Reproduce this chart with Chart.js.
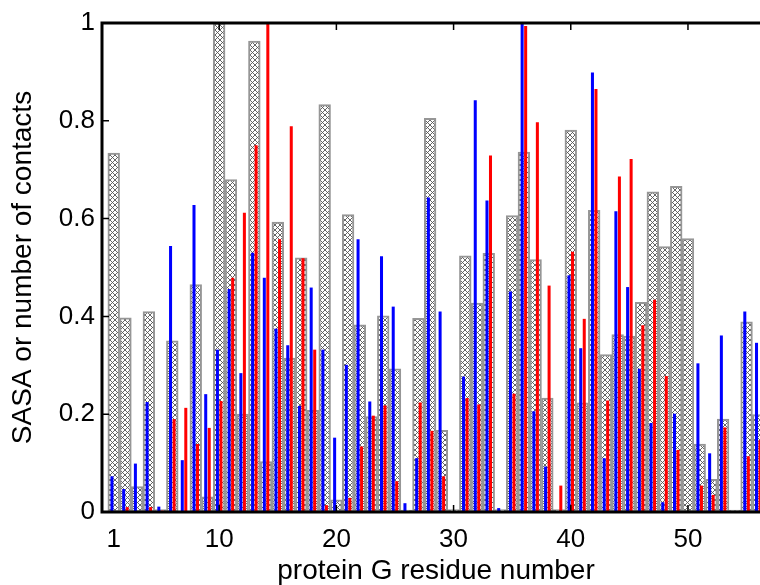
<!DOCTYPE html>
<html>
<head>
<meta charset="utf-8">
<script src="https://cdn.jsdelivr.net/npm/chart.js@4.4.1/dist/chart.umd.min.js"></script>
<style>
  html, body { margin: 0; padding: 0; background: #fff; overflow: hidden; width: 760px; height: 585px; }
  #wrap { width: 800px; height: 585px; }
</style>
</head>
<body>
<div id="wrap"><canvas id="c" width="800" height="585"></canvas></div>
<script>
// ---- data ----
const residues = [];
for (let i = 1; i <= 56; i++) residues.push(i);

const sasa = [0.734, 0.397, 0.052, 0.410, 0.005, 0.350, 0.000, 0.465, 0.031, 1.000,
              0.680, 0.200, 0.963, 0.103, 0.593, 0.315, 0.520, 0.208, 0.833, 0.025,
              0.608, 0.383, 0.195, 0.401, 0.293, 0.004, 0.396, 0.805, 0.167, 0.005,
              0.524, 0.427, 0.529, 0.005, 0.606, 0.736, 0.516, 0.233, 0.005, 0.781,
              0.223, 0.617, 0.322, 0.363, 0.360, 0.429, 0.655, 0.543, 0.666, 0.559,
              0.139, 0.067, 0.190, 0.004, 0.389, 0.199];

const contactsBlue = [0.073, 0.047, 0.099, 0.225, 0.011, 0.544, 0.106, 0.628, 0.241, 0.332,
                      0.456, 0.284, 0.530, 0.479, 0.375, 0.341, 0.217, 0.459, 0.332, 0.152,
                      0.301, 0.558, 0.226, 0.523, 0.420, 0.018, 0.110, 0.643, 0.410, 0.000,
                      0.277, 0.842, 0.637, 0.008, 0.451, 1.000, 0.206, 0.093, 0.000, 0.484,
                      0.335, 0.899, 0.110, 0.615, 0.460, 0.293, 0.182, 0.020, 0.201, 0.000,
                      0.304, 0.120, 0.361, 0.000, 0.410, 0.346];

const contactsRed = [0.000, 0.010, 0.000, 0.010, 0.003, 0.190, 0.213, 0.139, 0.172, 0.227,
                     0.479, 0.612, 0.750, 1.000, 0.558, 0.789, 0.519, 0.332, 0.014, 0.000,
                     0.029, 0.134, 0.197, 0.218, 0.063, 0.000, 0.224, 0.166, 0.073, 0.000,
                     0.233, 0.220, 0.729, 0.000, 0.242, 0.994, 0.797, 0.463, 0.054, 0.532,
                     0.395, 0.865, 0.228, 0.686, 0.722, 0.382, 0.434, 0.278, 0.127, 0.000,
                     0.054, 0.035, 0.173, 0.000, 0.114, 0.147];

const xTickValues = [1, 10, 20, 30, 40, 50];
const xMarkValues = [10, 20, 30, 40, 50];
const yTickValues = [0, 0.2, 0.4, 0.6, 0.8, 1];

// ---- hatch pattern ----
function makeHatch() {
  const n = 5;
  const t = document.createElement('canvas');
  t.width = n; t.height = n;
  const g = t.getContext('2d');
  g.fillStyle = '#ffffff';
  g.fillRect(0, 0, n, n);
  g.strokeStyle = '#555555';
  g.lineWidth = 0.9;
  g.beginPath();
  g.moveTo(0, 0); g.lineTo(n, n);
  g.moveTo(n, 0); g.lineTo(0, n);
  g.stroke();
  return document.getElementById('c').getContext('2d').createPattern(t, 'repeat');
}

const toXY = (vals) => vals.map((v, i) => ({ x: residues[i], y: v }));

const framePlugin = {
  id: 'frame',
  afterDatasetsDraw(chart) {
    const { ctx, chartArea: a, scales } = chart;
    ctx.save();
    ctx.strokeStyle = '#000';
    ctx.lineWidth = 1.5;
    ctx.beginPath();
    yTickValues.forEach(v => {
      if (v <= 0 || v >= 1) return;
      const y = scales.y.getPixelForValue(v);
      ctx.moveTo(a.left, y); ctx.lineTo(a.left + 7, y);
    });
    xMarkValues.forEach(v => {
      const x = scales.x.getPixelForValue(v);
      ctx.moveTo(x, a.top); ctx.lineTo(x, a.top + 7);
      ctx.moveTo(x, a.bottom); ctx.lineTo(x, a.bottom - 7);
    });
    ctx.stroke();
    ctx.lineWidth = 3;
    ctx.strokeRect(a.left, a.top, a.right - a.left, a.bottom - a.top);
    ctx.restore();
  }
};

const fontFamily = 'Liberation Sans, Arial, sans-serif';

new Chart(document.getElementById('c'), {
  type: 'bar',
  data: {
    datasets: [
      {
        label: 'contacts A',
        data: toXY(contactsBlue),
        backgroundColor: '#0000ff',
        borderWidth: 0,
        categoryPercentage: 0.6,
        barPercentage: 0.86,
        order: 0
      },
      {
        label: 'contacts B',
        data: toXY(contactsRed),
        backgroundColor: '#ff0000',
        borderWidth: 0,
        categoryPercentage: 0.6,
        barPercentage: 0.86,
        order: 0
      },
      {
        label: 'SASA',
        data: toXY(sasa),
        grouped: false,
        backgroundColor: makeHatch(),
        borderColor: '#969696',
        borderWidth: 2,
        borderSkipped: false,
        categoryPercentage: 1,
        barPercentage: 1,
        order: 1
      }
    ]
  },
  options: {
    responsive: false,
    animation: false,
    devicePixelRatio: 1,
    layout: { padding: { top: 23, right: 30, left: 0, bottom: 0 } },
    plugins: { legend: { display: false }, tooltip: { enabled: false } },
    scales: {
      x: {
        type: 'linear',
        min: 0,
        max: 57,
        offset: false,
        grid: { display: false, offset: false, drawTicks: false },
        border: { display: false },
        afterBuildTicks: (s) => { s.ticks = xTickValues.map(v => ({ value: v })); },
        afterFit: (s) => { s.height = 73; },
        ticks: {
          autoSkip: false,
          maxRotation: 0,
          padding: 12,
          color: '#000',
          font: { family: fontFamily, size: 26 },
          callback: (v) => String(v)
        },
        title: {
          display: true,
          text: 'protein G residue number',
          color: '#000',
          font: { family: fontFamily, size: 28, lineHeight: 1 },
          padding: { top: 0, bottom: 0 }
        }
      },
      y: {
        min: 0,
        max: 1,
        grid: { display: false, drawTicks: false },
        border: { display: false },
        afterBuildTicks: (s) => { s.ticks = yTickValues.map(v => ({ value: v })); },
        afterFit: (s) => { s.width = 102; },
        ticks: {
          padding: 7,
          color: '#000',
          font: { family: fontFamily, size: 26 },
          callback: (v) => String(Math.round(v * 10) / 10)
        },
        title: {
          display: true,
          text: 'SASA or number of contacts',
          color: '#000',
          font: { family: fontFamily, size: 28, lineHeight: 1 },
          padding: { top: 9, bottom: 0 }
        }
      }
    }
  },
  plugins: [framePlugin]
});
</script>
</body>
</html>
